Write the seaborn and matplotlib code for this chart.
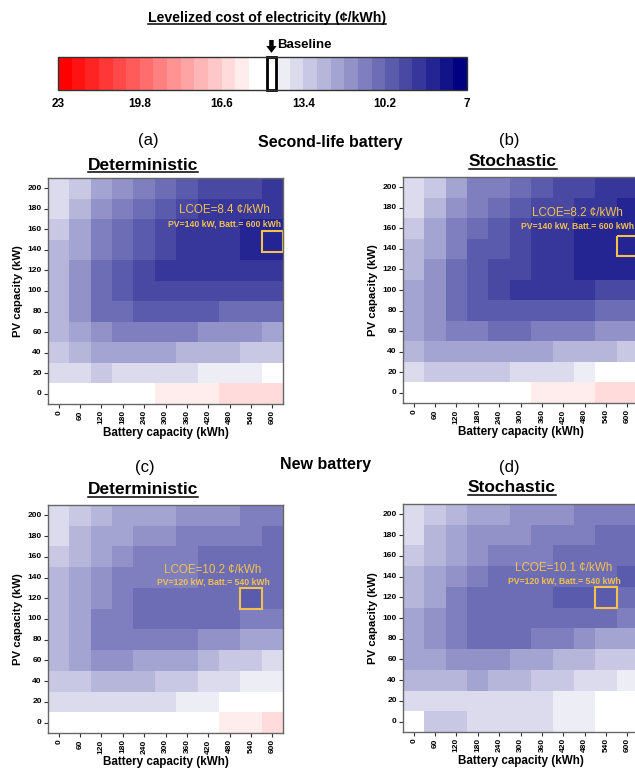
import numpy as np
import pandas as pd
import matplotlib
matplotlib.use("Agg")
import matplotlib.pyplot as plt
import seaborn as sns
from matplotlib.colors import LinearSegmentedColormap, Normalize
from matplotlib.cm import ScalarMappable
from matplotlib.patches import Rectangle
from matplotlib.lines import Line2D

plt.rcParams['font.family'] = ['Liberation Sans', 'DejaVu Sans']

# grid axes
pv_kw = [200, 180, 160, 140, 120, 100, 80, 60, 40, 20, 0]
battery_kwh = [0, 60, 120, 180, 240, 300, 360, 420, 480, 540, 600]

# colour scale
lcoe_min, lcoe_max = 7, 23
cbar_ticks = [23, 19.8, 16.6, 13.4, 10.2, 7]
baseline_lcoe = 14.65

# LCOE (cent/kWh), rows = PV 200 -> 0, cols = battery 0 -> 600
lcoe_a = [
    [13.7, 13.1, 12.1, 11.5, 11.0, 10.5, 9.9, 9.4, 9.4, 9.4, 8.9],
    [13.7, 12.6, 11.5, 11.0, 10.5, 9.9, 9.4, 8.9, 8.9, 8.9, 8.9],
    [13.1, 12.1, 11.0, 10.5, 9.9, 9.4, 8.9, 8.9, 8.9, 8.5, 8.5],
    [12.6, 12.1, 11.0, 10.5, 9.9, 9.4, 8.9, 8.9, 8.9, 8.5, 8.4],
    [12.6, 11.5, 10.5, 9.9, 9.4, 8.9, 8.9, 8.9, 8.9, 8.9, 8.9],
    [12.6, 11.5, 10.5, 9.9, 9.4, 9.4, 9.4, 9.4, 9.4, 9.4, 9.4],
    [12.6, 11.5, 10.5, 10.5, 9.9, 9.9, 9.9, 9.9, 10.5, 10.5, 10.5],
    [12.6, 12.1, 11.5, 11.0, 11.0, 11.0, 11.0, 11.5, 11.5, 11.5, 12.1],
    [13.1, 12.6, 12.1, 12.1, 12.1, 12.1, 12.6, 12.6, 12.6, 13.1, 13.1],
    [13.7, 13.7, 13.1, 13.7, 13.7, 13.7, 13.7, 14.2, 14.2, 14.2, 15.0],
    [15.0, 15.0, 15.0, 15.0, 15.0, 15.8, 15.8, 15.8, 16.3, 16.3, 16.3],
]
lcoe_b = [
    [13.7, 13.1, 12.1, 11.0, 11.0, 10.5, 9.9, 9.4, 9.4, 8.9, 8.9],
    [13.7, 12.6, 11.5, 11.0, 10.5, 9.9, 9.4, 9.4, 8.9, 8.9, 8.4],
    [13.1, 12.1, 11.0, 10.5, 9.9, 9.4, 8.9, 8.9, 8.4, 8.4, 8.4],
    [12.6, 12.1, 11.0, 9.9, 9.9, 9.4, 8.9, 8.9, 8.4, 8.4, 8.2],
    [12.6, 11.5, 10.5, 9.9, 9.4, 9.4, 8.9, 8.9, 8.4, 8.4, 8.4],
    [12.1, 11.5, 10.5, 9.9, 9.4, 8.9, 8.9, 8.9, 8.9, 9.4, 9.4],
    [12.1, 11.5, 10.5, 9.9, 9.9, 9.9, 9.9, 9.9, 9.9, 10.5, 10.5],
    [12.1, 11.5, 11.0, 11.0, 10.5, 10.5, 11.0, 11.0, 11.0, 11.5, 11.5],
    [12.6, 12.1, 12.1, 12.1, 12.1, 12.1, 12.1, 12.6, 12.6, 12.6, 13.1],
    [13.7, 13.1, 13.1, 13.1, 13.1, 13.7, 13.7, 13.7, 14.2, 15.0, 15.0],
    [15.0, 15.0, 15.0, 15.0, 15.0, 15.0, 15.8, 15.8, 15.8, 16.3, 16.3],
]
lcoe_c = [
    [13.7, 13.1, 12.6, 12.1, 12.1, 12.1, 11.5, 11.5, 11.5, 11.0, 11.0],
    [13.7, 12.6, 12.1, 12.1, 11.5, 11.5, 11.0, 11.0, 11.0, 11.0, 10.5],
    [13.1, 12.6, 12.1, 11.5, 11.0, 11.0, 11.0, 10.5, 10.5, 10.5, 10.5],
    [12.6, 12.1, 11.5, 11.0, 11.0, 11.0, 11.0, 10.5, 10.5, 10.5, 10.5],
    [12.6, 12.1, 11.5, 11.0, 10.5, 10.5, 10.5, 10.5, 10.5, 10.2, 10.5],
    [12.6, 12.1, 11.0, 11.0, 10.5, 10.5, 10.5, 10.5, 10.5, 11.0, 11.0],
    [12.6, 12.1, 11.0, 11.0, 11.0, 11.0, 11.0, 11.5, 11.5, 12.1, 12.1],
    [12.6, 12.1, 11.5, 11.5, 12.1, 12.1, 12.1, 12.6, 13.1, 13.1, 13.7],
    [13.1, 13.1, 12.6, 12.6, 12.6, 13.1, 13.1, 13.7, 13.7, 14.2, 14.2],
    [13.7, 13.7, 13.7, 13.7, 13.7, 13.7, 14.2, 14.2, 15.0, 15.0, 15.0],
    [15.0, 15.0, 15.0, 15.0, 15.0, 15.0, 15.0, 15.0, 15.8, 15.8, 16.3],
]
lcoe_d = [
    [13.7, 13.1, 12.6, 12.1, 12.1, 11.5, 11.5, 11.5, 11.0, 11.0, 11.0],
    [13.7, 12.6, 12.1, 11.5, 11.5, 11.5, 11.0, 11.0, 11.0, 10.5, 10.5],
    [13.1, 12.6, 12.1, 11.5, 11.0, 11.0, 11.0, 10.5, 10.5, 10.5, 10.5],
    [12.6, 12.1, 11.5, 11.0, 10.5, 10.5, 10.5, 10.5, 10.5, 10.5, 10.15],
    [12.6, 12.1, 11.0, 10.5, 10.5, 10.5, 10.5, 10.15, 10.15, 10.1, 10.5],
    [12.1, 11.5, 11.0, 10.5, 10.5, 10.5, 10.5, 10.5, 10.5, 10.5, 11.0],
    [12.1, 11.5, 11.0, 10.5, 10.5, 10.5, 11.0, 11.0, 11.5, 12.1, 12.1],
    [12.1, 12.1, 11.5, 11.5, 11.5, 12.1, 12.1, 12.6, 12.6, 13.1, 13.1],
    [12.6, 12.6, 12.6, 12.1, 12.6, 12.6, 13.1, 13.1, 13.7, 13.7, 14.2],
    [13.7, 13.7, 13.7, 13.7, 13.7, 13.7, 13.7, 14.2, 14.2, 15.0, 15.0],
    [15.0, 13.1, 13.1, 13.7, 13.7, 13.7, 13.7, 14.2, 14.2, 15.0, 15.0],
]

W, H = 635, 772
fig = plt.figure(figsize=(W / 100, H / 100), dpi=100)


def fx(px):
    return px / W


def fy(px):
    return 1 - px / H


gold = '#F2C14E'
cmap = LinearSegmentedColormap.from_list(
    'lcoe', [(0, '#000080'), (14 / 29, 'white'), (15 / 29, 'white'), (1, '#ff0000')], N=30)
norm = Normalize(lcoe_min, lcoe_max)

# ---- colour bar ----
cax = fig.add_axes([fx(58), fy(90), (467 - 58) / W, 33 / H])
cb = fig.colorbar(ScalarMappable(norm=norm, cmap=cmap), cax=cax,
                  orientation='horizontal', ticks=cbar_ticks)
cax.invert_xaxis()
cax.set_xticklabels([f'{t:g}' for t in cbar_ticks], fontweight='bold')
cax.tick_params(length=0, pad=6, labelsize=8.5)
cb.outline.set_edgecolor('#333333')
cb.outline.set_linewidth(1)
cax.add_patch(Rectangle((baseline_lcoe - 0.18, 0), 0.36, 1, transform=cax.get_xaxis_transform(),
                        fill=False, ec='black', lw=2, clip_on=False))
cax.annotate('', xy=(baseline_lcoe, 1.04), xycoords=('data', 'axes fraction'),
             xytext=(baseline_lcoe, 1.6), textcoords=('data', 'axes fraction'),
             arrowprops=dict(arrowstyle='simple,head_width=0.75,head_length=0.5,tail_width=0.32',
                             color='black', lw=0))
cax.text(baseline_lcoe - 0.22, 1.36, 'Baseline', transform=cax.get_xaxis_transform(),
         ha='left', va='center', fontsize=9.5, fontweight='bold')

# ---- heat maps ----
panels = [
    (lcoe_a, [fx(48), fy(404), 235 / W, 226 / H], (8.25, 1.55), 2.25, -0.4),
    (lcoe_b, [fx(403), fy(403), 235 / W, 226 / H], (8.15, 1.75), 2.4, -0.15),
    (lcoe_c, [fx(48), fy(733), 235 / W, 228 / H], (7.72, 3.14), 3.72, 0.0),
    (lcoe_d, [fx(403), fy(732), 235 / W, 228 / H], (7.54, 3.09), 3.72, 0.0),
]

for vals, pos, (tx, ty), sub_y, box_dy in panels:
    ax = fig.add_axes(pos)
    df = pd.DataFrame(vals, index=pv_kw, columns=battery_kwh)
    sns.heatmap(df, ax=ax, cmap=cmap, vmin=lcoe_min, vmax=lcoe_max, cbar=False)
    ax.set_xlabel('Battery capacity (kWh)', fontsize=8.4, fontweight='bold', labelpad=2)
    ax.set_ylabel('PV capacity (kW)', fontsize=8.2, fontweight='bold', labelpad=3)
    ax.tick_params(axis='both', length=3, width=0.8, labelsize=6, pad=1.5, color='#333333')
    ax.set_xticklabels(battery_kwh, rotation=90, fontweight='bold')
    ax.set_yticklabels(pv_kw, rotation=0, fontweight='bold')
    for s in ax.spines.values():
        s.set_visible(True)
        s.set_color('#666666')
        s.set_linewidth(1)

    arr = np.array(vals)
    r, c = np.unravel_index(np.argmin(arr), arr.shape)
    ax.add_patch(Rectangle((c, r + box_dy), 1, 1, fill=False, ec=gold, lw=1.5, clip_on=False))
    ax.text(tx, ty, f'LCOE={arr[r, c]:.1f} ¢/kWh', ha='center', va='center',
            fontsize=8.4, color=gold)
    ax.text(tx, sub_y, f'PV={pv_kw[r]} kW, Batt.= {battery_kwh[c]} kWh', ha='center',
            va='center', fontsize=6.2, fontweight='bold', color=gold)

# ---- headings ----
title = fig.text(fx(267), fy(18), 'Levelized cost of electricity (¢/kWh)', ha='center',
                 va='center', fontsize=10.2, fontweight='bold')
underlined = [title]
for x, y, s in [(148, 141, '(a)'), (509, 141, '(b)'), (145, 467, '(c)'), (509, 467, '(d)')]:
    fig.text(fx(x), fy(y), s, ha='center', va='center', fontsize=12)
for x, y, s in [(330, 143, 'Second-life battery'), (326, 464, 'New battery')]:
    fig.text(fx(x), fy(y), s, ha='center', va='center', fontsize=11.5, fontweight='bold')
for x, y, s in [(143, 165, 'Deterministic'), (513, 162, 'Stochastic'),
                (143, 490, 'Deterministic'), (512, 488, 'Stochastic')]:
    underlined.append(fig.text(fx(x), fy(y), s, ha='center', va='center',
                               fontsize=12.5, fontweight='bold'))

fig.canvas.draw()
renderer = fig.canvas.get_renderer()
inv = fig.transFigure.inverted()
for t in underlined:
    bb = t.get_window_extent(renderer)
    (x0, y0), (x1, _) = inv.transform([(bb.x0, bb.y0 + 1), (bb.x1, bb.y0 + 1)])
    fig.add_artist(Line2D([x0, x1], [y0, y0], transform=fig.transFigure, color='black', lw=1.1))

fig.savefig('out.png', dpi=100)
